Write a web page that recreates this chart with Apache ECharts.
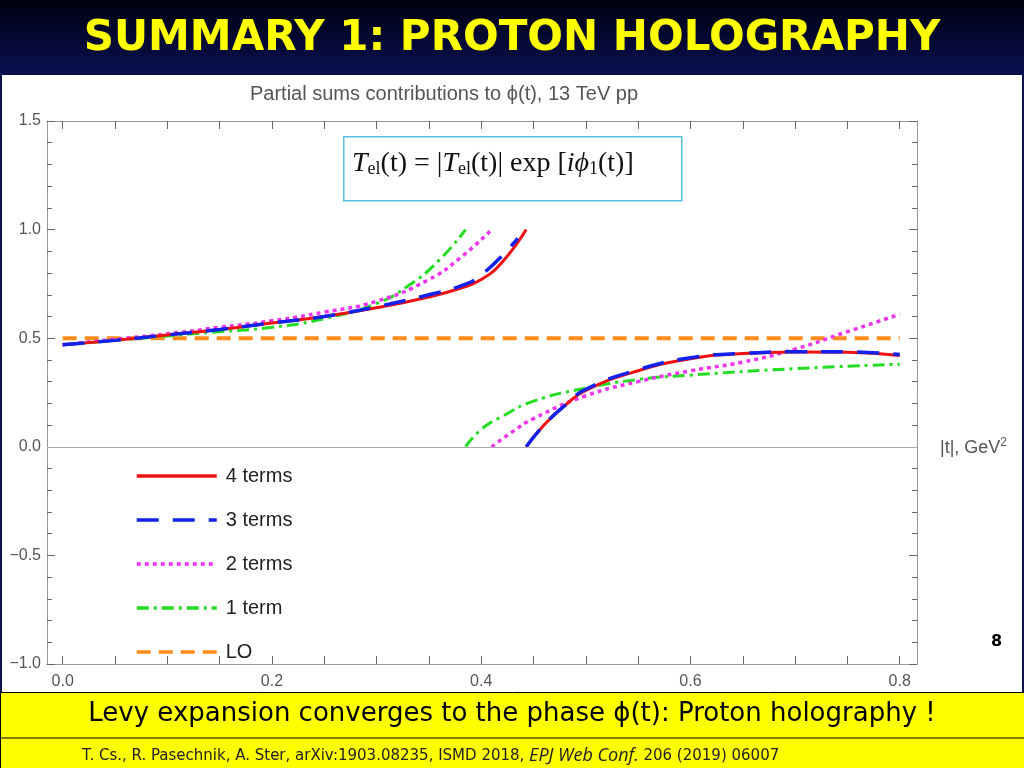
<!DOCTYPE html>
<html><head><meta charset="utf-8">
<script src="https://cdn.jsdelivr.net/npm/echarts@6/dist/echarts.min.js"></script>
<style>html,body{margin:0;padding:0;background:#fff}#c{width:1024px;height:768px}</style>
</head><body><div id="c"></div>
<script>
// 4 terms: two branches
var t4a = [[0,0.47],[0.05,0.49],[0.1,0.515],[0.15,0.54],[0.2,0.57],[0.25,0.6],[0.3,0.64],[0.35,0.69],[0.38,0.73],[0.4,0.77],[0.42,0.85],[0.443,1.0]];
var t4b = [[0.443,0],[0.46,0.1],[0.48,0.19],[0.5,0.26],[0.55,0.35],[0.6,0.405],[0.65,0.43],[0.7,0.437],[0.75,0.435],[0.8,0.42]];
var t3a = [[0,0.47],[0.05,0.49],[0.1,0.515],[0.15,0.54],[0.2,0.57],[0.25,0.6],[0.3,0.645],[0.35,0.7],[0.38,0.74],[0.4,0.79],[0.435,0.96]];
var t3b = [[0.443,0],[0.46,0.1],[0.48,0.19],[0.5,0.265],[0.55,0.355],[0.6,0.41],[0.65,0.43],[0.7,0.438],[0.75,0.437],[0.8,0.425]];
var t2a = [[0,0.47],[0.05,0.495],[0.1,0.52],[0.15,0.55],[0.2,0.58],[0.25,0.62],[0.3,0.67],[0.35,0.77],[0.38,0.87],[0.41,1.0]];
var t2b = [[0.41,0],[0.43,0.07],[0.45,0.13],[0.5,0.235],[0.55,0.3],[0.6,0.35],[0.65,0.39],[0.7,0.45],[0.75,0.53],[0.8,0.61]];
var t1a = [[0,0.47],[0.05,0.49],[0.1,0.51],[0.15,0.53],[0.2,0.55],[0.25,0.59],[0.3,0.66],[0.33,0.74],[0.36,0.86],[0.385,1.0]];
var t1b = [[0.385,0],[0.4,0.08],[0.42,0.14],[0.45,0.21],[0.5,0.27],[0.55,0.31],[0.6,0.33],[0.7,0.36],[0.8,0.38]];
var lo = [[0,0.5],[0.8,0.5]];
var xLabels = [0,0.2,0.4,0.6,0.8];
var xTicks = [0,0.05,0.1,0.15,0.2,0.25,0.3,0.35,0.4,0.45,0.5,0.55,0.6,0.65,0.7,0.75,0.8];

var chart = echarts.init(document.getElementById('c'));
function line(name, data, color, type, width) {
  return {name: name, type: 'line', data: data, showSymbol: false, symbol: 'none', smooth: true,
    lineStyle: {color: color, type: type, width: width}, itemStyle: {color: color}, z: 3};
}
var axisFont = {color: '#555', fontSize: 16, fontFamily: 'Liberation Sans'};
var xBase = {type: 'value', min: -0.015, max: 0.8165, axisLine: {show: true, onZero: false, lineStyle: {color: '#999'}},
  axisTick: {show: true, inside: true, length: 8, customValues: xTicks, lineStyle: {color: '#666'}},
  splitLine: {show: false}};
var yBase = {type: 'value', min: -1, max: 1.5, interval: 0.5, axisLine: {show: true, onZero: false, lineStyle: {color: '#999'}},
  axisTick: {show: true, inside: true, length: 8, lineStyle: {color: '#666'}},
  minorTick: {show: true, splitNumber: 5, length: 5, lineStyle: {color: '#666'}},
  splitLine: {show: false}};
chart.setOption({
  animation: false,
  grid: {left: 47, right: 107, top: 121, bottom: 104},
  xAxis: [
    Object.assign({}, xBase, {position: 'bottom', axisLabel: Object.assign({customValues: xLabels, margin: 10,
      formatter: function (v) { return v.toFixed(1); }}, axisFont)}),
    Object.assign({}, xBase, {position: 'top', axisLabel: {show: false}})
  ],
  yAxis: [
    Object.assign({}, yBase, {position: 'left', axisLabel: Object.assign({margin: 6,
      formatter: function (v) { return (v < 0 ? '\u2212' : '') + Math.abs(v).toFixed(1); }}, axisFont)}),
    Object.assign({}, yBase, {position: 'right', axisLabel: {show: false}})
  ],
  legend: {orient: 'vertical', left: 130, top: 461, itemWidth: 80, itemHeight: 14, itemGap: 24,
    itemStyle: {opacity: 0}, lineStyle: {width: 3.5},
    data: ['4 terms', '3 terms', '2 terms', '1 term', 'LO'],
    textStyle: {fontSize: 20, color: '#222', fontFamily: 'Liberation Sans', padding: [0, 0, 0, 4]}},
  series: [
    Object.assign(line('LO', lo, '#ff8c1a', [14, 8], 4), {smooth: false, z: 2,
      markLine: {silent: true, symbol: 'none', label: {show: false}, lineStyle: {color: '#aaa', type: 'solid', width: 1},
        data: [{yAxis: 0}]}}),
    line('1 term', t1a, '#22dd22', [12, 5, 3, 5], 3),
    line('1 term', t1b, '#22dd22', [12, 5, 3, 5], 3),
    line('2 terms', t2a, '#ee33ee', [4, 4], 3.5),
    line('2 terms', t2b, '#ee33ee', [4, 4], 3.5),
    line('4 terms', t4a, '#ee1111', 'solid', 3),
    line('4 terms', t4b, '#ee1111', 'solid', 3),
    line('3 terms', t3a, '#1122ee', [22, 14], 3.5),
    line('3 terms', t3b, '#1122ee', [22, 14], 3.5)
  ],
  graphic: [
    {type: 'rect', left: 0, top: 0, shape: {width: 1024, height: 75},
      style: {fill: new echarts.graphic.LinearGradient(0, 0, 0, 1, [{offset: 0, color: '#000010'}, {offset: 1, color: '#0a1050'}])}},
    {type: 'text', left: 'center', top: 18, style: {text: 'SUMMARY 1: PROTON HOLOGRAPHY', fill: '#ffff00',
      font: 'bold 42px "DejaVu Sans"'}},
    {type: 'rect', left: 0, top: 75, shape: {width: 2, height: 618}, style: {fill: '#0a1050'}},
    {type: 'rect', left: 1022, top: 75, shape: {width: 2, height: 618}, style: {fill: '#0a1050'}},
    {type: 'text', left: 250, top: 84, style: {text: 'Partial sums contributions to \u03d5(t), 13 TeV pp', fill: '#555',
      font: '20px "Liberation Sans"'}},
    {type: 'rect', left: 343, top: 136, shape: {width: 338, height: 64}, style: {fill: '#fff', stroke: '#5bc0de', lineWidth: 1.5}, z: 10},
    {type: 'text', left: 352, top: 150, z: 11, style: {
      text: '{i|T}{s|el}(t) = |{i|T}{s|el}(t)| exp [{i|i\u03d5}{s|1}(t)]',
      font: '28px "Liberation Serif"', fill: '#111',
      rich: {i: {fontStyle: 'italic', fontSize: 28, fontFamily: 'Liberation Serif'}, s: {fontSize: 18, verticalAlign: 'bottom', padding: [10, 0, 0, 0], fontFamily: 'Liberation Serif'}}}},
    {type: 'text', left: 940, top: 437, style: {text: '|t|, GeV{u|2}', fill: '#555', font: '18px "Liberation Sans"',
      rich: {u: {fontSize: 12, verticalAlign: 'top', padding: [0, 0, 10, 0]}}}},
    {type: 'text', left: 991, top: 634, style: {text: '8', fill: '#000', font: 'bold 16px "DejaVu Sans"'}},
    {type: 'rect', left: 0, top: 692, shape: {width: 1024, height: 76}, style: {fill: '#ffff00', stroke: '#000', lineWidth: 1}},
    {type: 'line', shape: {x1: 0, y1: 738, x2: 1024, y2: 738}, style: {stroke: '#000', lineWidth: 1}},
    {type: 'text', left: 'center', top: 701, style: {text: 'Levy expansion converges to the phase \u03d5(t): Proton holography !',
      fill: '#000', font: '26px "DejaVu Sans"'}},
    {type: 'text', left: 82, top: 747, style: {
      text: 'T. Cs., R. Pasechnik, A. Ster, {a|arXiv:1903.08235}, ISMD 2018, {e|EPJ Web Conf.} 206 (2019) 06007',
      fill: '#222', font: '15px "DejaVu Sans"',
      rich: {a: {color: '#333399', fontSize: 15, fontFamily: 'DejaVu Sans'}, e: {fontStyle: 'italic', fontSize: 18, fontFamily: 'Open Sans'}}}}
  ]
});
</script></body></html>
